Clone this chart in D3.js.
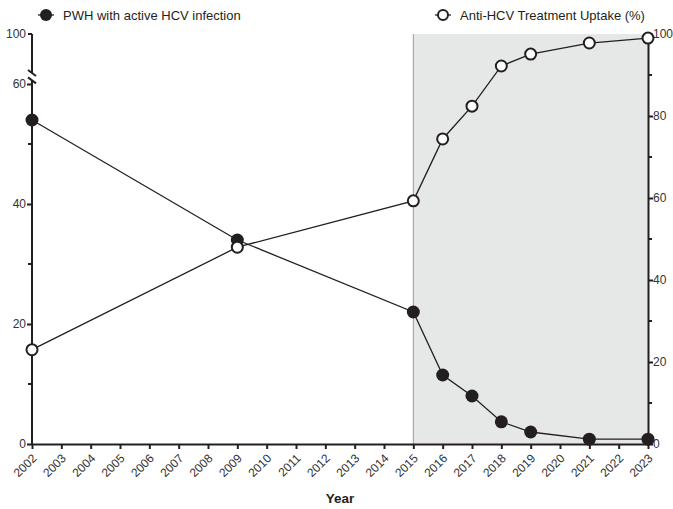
<!DOCTYPE html>
<html lang="en">
<head>
  <meta charset="UTF-8">
  <title>HCV</title>
  <style>
    body { margin: 0; background: #fff; }
    text { font-family: "Liberation Sans", Arial, sans-serif; }
  </style>
</head>
<body>
  <svg id="chart" width="673" height="509"></svg>
  <script src="https://cdn.jsdelivr.net/npm/d3@7"></script>
  <script>
  // data
  var years = d3.range(2002, 2024);
  var pwhYears = [2002, 2009, 2015, 2016, 2017, 2018, 2019, 2021, 2023];
  var pwhValues = [54, 34, 22, 11.5, 8, 3.7, 2, 0.8, 0.8];
  var uptakeYears = [2002, 2009, 2015, 2016, 2017, 2018, 2019, 2021, 2023];
  var uptakeValues = [23, 48, 59.3, 74.4, 82.4, 92.2, 95.1, 97.8, 99];
  var leftTicks = [0, 20, 40, 60];
  var leftMinor = [10, 30, 50];
  var rightTicks = [0, 20, 40, 60, 80, 100];
  var rightMinor = [10, 30, 50, 70, 90];
  var shadeFrom = 2015;

  var svg = d3.select('#chart');
  var ink = '#231f20';

  var x = d3.scaleLinear().domain([2002, 2023]).range([32, 648]);
  var yLeft = d3.scaleLinear().domain([0, 60]).range([444, 84]);
  var yRight = d3.scaleLinear().domain([0, 100]).range([444, 34]);

  // shaded period
  svg.append('rect')
    .attr('x', x(shadeFrom)).attr('y', yRight(100))
    .attr('width', x(2023) - x(shadeFrom)).attr('height', yRight(0) - yRight(100))
    .attr('fill', '#e6e7e7');
  svg.append('line')
    .attr('x1', x(shadeFrom)).attr('x2', x(shadeFrom))
    .attr('y1', yRight(100)).attr('y2', yRight(0))
    .attr('stroke', '#9a9a9a').attr('stroke-width', 1);

  // x axis
  var xAxis = svg.append('g')
    .attr('transform', 'translate(0,444)')
    .call(d3.axisBottom(x).tickValues(years).tickFormat(d3.format('d')).tickSize(5).tickSizeOuter(0));
  xAxis.select('.domain').attr('stroke', ink).attr('stroke-width', 2);
  xAxis.selectAll('.tick line').attr('stroke', ink).attr('stroke-width', 2);
  xAxis.selectAll('.tick text')
    .attr('font-size', 12).attr('fill', '#333')
    .attr('text-anchor', 'end')
    .attr('x', 0).attr('y', 0).attr('dy', '0.35em')
    .attr('transform', 'translate(2,12) rotate(-45)');

  svg.append('text')
    .attr('x', (x(2002) + x(2023)) / 2).attr('y', 503)
    .attr('text-anchor', 'middle')
    .attr('font-size', 13.5).attr('font-weight', 'bold').attr('fill', ink)
    .text('Year');

  // left axis (broken)
  var leftAxis = svg.append('g')
    .attr('transform', 'translate(32,0)')
    .call(d3.axisLeft(yLeft).tickValues(leftTicks).tickSize(5).tickSizeOuter(0));
  leftAxis.select('.domain').remove();
  leftAxis.selectAll('.tick line').attr('stroke', ink).attr('stroke-width', 2);
  leftAxis.selectAll('.tick text').attr('font-size', 12).attr('fill', '#333').attr('dx', 2);
  leftAxis.selectAll('.minor').data(leftMinor).enter().append('line')
    .attr('x1', -4).attr('x2', 0)
    .attr('y1', d => yLeft(d)).attr('y2', d => yLeft(d))
    .attr('stroke', ink).attr('stroke-width', 2);

  var breakLow = yLeft(60.6), breakHigh = 73;
  leftAxis.append('line')
    .attr('x1', 0).attr('x2', 0).attr('y1', 444).attr('y2', breakLow)
    .attr('stroke', ink).attr('stroke-width', 2);
  leftAxis.append('line')
    .attr('x1', 0).attr('x2', 0).attr('y1', yRight(100)).attr('y2', breakHigh)
    .attr('stroke', ink).attr('stroke-width', 2);
  [breakLow, breakHigh].forEach(function (b) {
    leftAxis.append('line')
      .attr('x1', -4).attr('x2', 4).attr('y1', b - 3).attr('y2', b + 3)
      .attr('stroke', ink).attr('stroke-width', 2);
  });
  leftAxis.append('line')
    .attr('x1', -4).attr('x2', 0).attr('y1', yRight(100)).attr('y2', yRight(100))
    .attr('stroke', ink).attr('stroke-width', 2);
  leftAxis.append('text')
    .attr('x', -6).attr('y', yRight(100)).attr('dy', '0.32em')
    .attr('text-anchor', 'end').attr('font-size', 12).attr('fill', '#333')
    .text('100');

  // right axis
  var rightAxis = svg.append('g')
    .attr('transform', 'translate(648,0)')
    .call(d3.axisRight(yRight).tickValues(rightTicks).tickSize(5).tickSizeOuter(0));
  rightAxis.select('.domain').attr('stroke', ink).attr('stroke-width', 2);
  rightAxis.selectAll('.tick line').attr('stroke', ink).attr('stroke-width', 2);
  rightAxis.selectAll('.tick text').attr('font-size', 12).attr('fill', '#333').attr('dx', -3);
  rightAxis.selectAll('.minor').data(rightMinor).enter().append('line')
    .attr('x1', 0).attr('x2', 4)
    .attr('y1', d => yRight(d)).attr('y2', d => yRight(d))
    .attr('stroke', ink).attr('stroke-width', 2);

  // series
  var pwh = pwhYears.map((d, i) => ({ x: d, y: pwhValues[i] }));
  var uptake = uptakeYears.map((d, i) => ({ x: d, y: uptakeValues[i] }));

  svg.append('path').datum(pwh)
    .attr('d', d3.line().x(d => x(d.x)).y(d => yLeft(d.y)))
    .attr('fill', 'none').attr('stroke', ink).attr('stroke-width', 1.3);
  svg.append('path').datum(uptake)
    .attr('d', d3.line().x(d => x(d.x)).y(d => yRight(d.y)))
    .attr('fill', 'none').attr('stroke', ink).attr('stroke-width', 1.3);

  svg.append('g').selectAll('circle').data(pwh).enter().append('circle')
    .attr('cx', d => x(d.x)).attr('cy', d => yLeft(d.y)).attr('r', 6.5)
    .attr('fill', ink);
  svg.append('g').selectAll('circle').data(uptake).enter().append('circle')
    .attr('cx', d => x(d.x)).attr('cy', d => yRight(d.y)).attr('r', 5.5)
    .attr('fill', '#fff').attr('stroke', ink).attr('stroke-width', 2);

  // legend
  var leg1 = svg.append('g').attr('transform', 'translate(46,15)');
  leg1.append('line').attr('x1', -8).attr('x2', 8).attr('stroke', ink).attr('stroke-width', 1.3);
  leg1.append('circle').attr('r', 6).attr('fill', ink);
  leg1.append('text').attr('x', 17).attr('dy', '0.35em')
    .attr('font-size', 13).attr('fill', ink).text('PWH with active HCV infection');

  var leg2 = svg.append('g').attr('transform', 'translate(443,15)');
  leg2.append('line').attr('x1', -8).attr('x2', 8).attr('stroke', ink).attr('stroke-width', 1.3);
  leg2.append('circle').attr('r', 5).attr('fill', '#fff').attr('stroke', ink).attr('stroke-width', 2);
  leg2.append('text').attr('x', 17).attr('dy', '0.35em')
    .attr('font-size', 13).attr('fill', ink).text('Anti-HCV Treatment Uptake (%)');
  </script>
</body>
</html>
